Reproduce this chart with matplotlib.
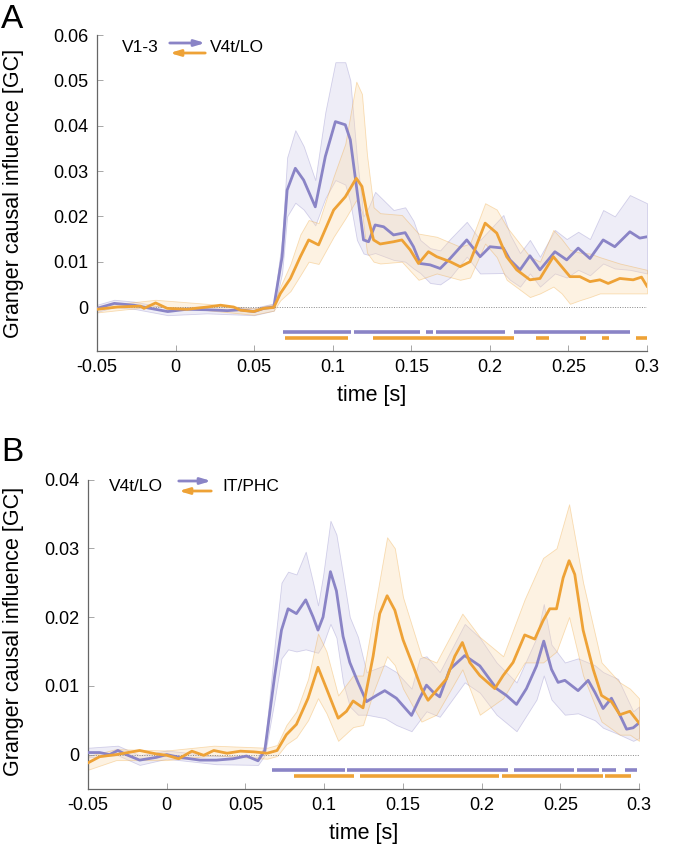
import matplotlib
matplotlib.use("Agg")
import matplotlib.pyplot as plt
import numpy as np

plt.rcParams['font.family'] = ['Liberation Sans', 'DejaVu Sans']

purple = '#8a84c6'
orange = '#eea236'
purple_fill = '#cfcce9'
orange_fill = '#fcdcae'

# ---------------- panel A: V1-3 <-> V4t/LO ----------------
tA_p = [-0.05, -0.039, -0.0265, -0.016, -0.005, 0.007, 0.020, 0.033, 0.041, 0.050, 0.056, 0.0625,
        0.0678, 0.071, 0.0762, 0.0815, 0.0889, 0.0953, 0.1017, 0.108, 0.1112, 0.1154, 0.1196, 0.1228,
        0.127, 0.1324, 0.1387, 0.1461, 0.1514, 0.1557, 0.162, 0.1684, 0.1747, 0.1853, 0.1938, 0.2001,
        0.2086, 0.2128, 0.2192, 0.2255, 0.2319, 0.2414, 0.2489, 0.2562, 0.2637, 0.2721, 0.2795, 0.2891,
        0.2954, 0.30]
mA_p = [-0.0003, 0.0008, 0.0004, -0.0003, -0.001, -0.0005, -0.0006, -0.0008, -0.0006, -0.001, -0.0003, 0.0,
        0.0111, 0.0258, 0.0306, 0.0280, 0.0221, 0.0332, 0.0409, 0.0402, 0.0369, 0.0258, 0.0148, 0.0144,
        0.0181, 0.0177, 0.0159, 0.0164, 0.0133, 0.0096, 0.0093, 0.0085, 0.0107, 0.0148, 0.0111, 0.0133,
        0.0130, 0.0104, 0.0082, 0.0113, 0.0082, 0.0122, 0.0104, 0.0130, 0.0107, 0.0148, 0.0133, 0.0166,
        0.0152, 0.0155]
bA_p_t = [-0.05, -0.039, -0.0265, -0.005, 0.02, 0.05, 0.0625, 0.0678, 0.071, 0.0762, 0.0815, 0.0889,
          0.0953, 0.1017, 0.108, 0.1112, 0.1154, 0.1196, 0.1228, 0.127, 0.1387, 0.1461, 0.1514, 0.1557,
          0.162, 0.1684, 0.1747, 0.1853, 0.1938, 0.2086, 0.2128, 0.2192, 0.2255, 0.2319, 0.2414, 0.2489,
          0.2562, 0.2637, 0.2721, 0.2795, 0.2891, 0.30]
bA_p_lo = [-0.0011, 0.0, -0.0004, -0.0018, -0.0014, -0.0018, -0.0008, 0.0075, 0.020, 0.023, 0.0215, 0.018,
           0.024, 0.028, 0.027, 0.023, 0.0148, 0.0118, 0.0115, 0.0119, 0.0104, 0.0100, 0.0085, 0.0075,
           0.0053, 0.0050, 0.0065, 0.0111, 0.0074, 0.0075, 0.006, 0.0045, 0.0074, 0.0045, 0.0074, 0.0065,
           0.0082, 0.0070, 0.0096, 0.0085, 0.0082, 0.0074]
bA_p_hi = [0.0005, 0.0016, 0.0012, -0.0002, 0.0002, -0.0002, 0.0008, 0.0150, 0.033, 0.039, 0.0355, 0.028,
           0.043, 0.054, 0.054, 0.050, 0.033, 0.0200, 0.022, 0.0254, 0.0214, 0.0220, 0.019, 0.0148,
           0.0130, 0.0125, 0.015, 0.0188, 0.0148, 0.0203, 0.016, 0.0119, 0.0148, 0.0111, 0.0170, 0.015,
           0.0166, 0.0150, 0.0214, 0.0200, 0.0247, 0.0229]

tA_o = [-0.05, -0.037, -0.0223, -0.0201, -0.0127, -0.0053, 0.0074, 0.0201, 0.0286, 0.037, 0.0413, 0.0497,
        0.0561, 0.0625, 0.0667, 0.0731, 0.0794, 0.0847, 0.091, 0.1006, 0.108, 0.115, 0.1186, 0.1218,
        0.126, 0.1302, 0.1387, 0.144, 0.1493, 0.1546, 0.1609, 0.1662, 0.1747, 0.1811, 0.1874, 0.197,
        0.2044, 0.2107, 0.2171, 0.2255, 0.2319, 0.2404, 0.2457, 0.251, 0.2573, 0.2637, 0.27, 0.2753,
        0.2827, 0.2912, 0.2965, 0.30]
mA_o = [-0.0005, 0.0, 0.0002, -0.0003, 0.0009, -0.0003, -0.0005, 0.0, 0.0004, 0.0, -0.0007, -0.001,
        -0.0003, -0.0001, 0.003, 0.0063, 0.0111, 0.0148, 0.0137, 0.0214, 0.0243, 0.0284, 0.0266, 0.0207,
        0.0148, 0.0139, 0.0144, 0.0148, 0.0126, 0.0096, 0.0122, 0.0111, 0.0100, 0.0089, 0.0100, 0.0185,
        0.0163, 0.0111, 0.0082, 0.0060, 0.0063, 0.0111, 0.0089, 0.0067, 0.0067, 0.0056, 0.0060, 0.0052,
        0.0063, 0.0060, 0.0066, 0.0046]
bA_o_t = [-0.05, -0.0127, 0.0201, 0.0497, 0.0625, 0.0667, 0.0731, 0.0794, 0.0847, 0.091, 0.1006, 0.108,
          0.115, 0.1186, 0.1218, 0.126, 0.1302, 0.144, 0.1546, 0.1662, 0.1811, 0.1874, 0.197, 0.2044,
          0.2107, 0.2255, 0.2319, 0.2404, 0.2457, 0.251, 0.2573, 0.2637, 0.27, 0.2827, 0.30]
bA_o_lo = [-0.0012, 0.0002, -0.0007, -0.0017, -0.0008, 0.0015, 0.0035, 0.0070, 0.0100, 0.0095, 0.0155, 0.0195,
           0.0236, 0.021, 0.012, 0.0100, 0.0096, 0.0100, 0.0060, 0.0074, 0.0060, 0.0065, 0.0140, 0.0110,
           0.0060, 0.0022, 0.0030, 0.0045, 0.0030, 0.0007, 0.0015, 0.0022, 0.0030, 0.0030, 0.0030]
bA_o_hi = [0.0002, 0.0016, 0.0007, -0.0003, 0.0006, 0.0045, 0.0095, 0.0160, 0.0192, 0.0185, 0.0288, 0.036,
           0.0497, 0.047, 0.0336, 0.022, 0.0207, 0.0203, 0.0162, 0.0155, 0.0133, 0.0140, 0.0229, 0.0215,
           0.0177, 0.0111, 0.0100, 0.0170, 0.0150, 0.0126, 0.0120, 0.0118, 0.0110, 0.0096, 0.0082]

sigA_p = [(0.0683, 0.1114), (0.1135, 0.1554), (0.1595, 0.1635), (0.1655, 0.2095), (0.2152, 0.2893)]
sigA_o = [(0.0695, 0.1097), (0.1254, 0.2156), (0.2292, 0.2374), (0.2571, 0.2614), (0.2711, 0.2755),
          (0.2931, 0.3013)]

# ---------------- panel B: V4t/LO <-> IT/PHC ----------------
tB_p = [-0.05, -0.0426, -0.0363, -0.031, -0.0257, -0.0172, -0.0066, 0.0, 0.0083, 0.0211, 0.0316, 0.0422,
        0.0507, 0.058, 0.0623, 0.0686, 0.0729, 0.0771, 0.0824, 0.0883, 0.093, 0.0961, 0.0993, 0.104,
        0.1078, 0.112, 0.1163, 0.1215, 0.1269, 0.1332, 0.1385, 0.1459, 0.1555, 0.1607, 0.165, 0.1692,
        0.1734, 0.1798, 0.1893, 0.1989, 0.2095, 0.2158, 0.2222, 0.2285, 0.2349, 0.2395, 0.2444, 0.2486,
        0.2529, 0.2613, 0.2677, 0.2719, 0.2772, 0.2825, 0.2867, 0.2921, 0.2963, 0.30]
mB_p = [0.0003, 0.0003, 0.0, 0.0006, 0.0, -0.0008, -0.0004, 0.0, -0.0004, -0.0008, -0.0008, -0.0006,
        -0.0002, -0.0009, 0.0006, 0.0115, 0.0181, 0.0212, 0.0205, 0.0225, 0.0200, 0.0181, 0.0200, 0.0266,
        0.0238, 0.0172, 0.0134, 0.0105, 0.0077, 0.0086, 0.0093, 0.0082, 0.0057, 0.0082, 0.0101, 0.0091,
        0.0084, 0.0124, 0.0144, 0.0129, 0.0096, 0.0086, 0.0073, 0.0096, 0.0129, 0.0165, 0.0124, 0.0105,
        0.0108, 0.0093, 0.0108, 0.0091, 0.0067, 0.0082, 0.0063, 0.0037, 0.0039, 0.0046]
bB_p_t = [-0.05, -0.031, -0.0172, 0.0, 0.0316, 0.058, 0.0623, 0.0686, 0.0729, 0.0771, 0.0824, 0.0883,
          0.093, 0.0961, 0.0993, 0.104, 0.1078, 0.112, 0.1163, 0.1215, 0.1269, 0.1385, 0.1459, 0.1555,
          0.1607, 0.165, 0.1734, 0.1893, 0.1989, 0.2095, 0.2222, 0.2349, 0.2395, 0.2444, 0.2529, 0.2613,
          0.2719, 0.2772, 0.2867, 0.2963, 0.30]
bB_p_lo = [-0.0004, -0.0001, -0.0015, -0.0006, -0.0014, -0.0015, -0.0001, 0.0080, 0.0140, 0.0153, 0.0150, 0.0153,
           0.0150, 0.0148, 0.0160, 0.0190, 0.0170, 0.0105, 0.0070, 0.0058, 0.0058, 0.0053, 0.0043, 0.0034,
           0.0050, 0.0063, 0.0055, 0.0105, 0.0090, 0.0058, 0.0034, 0.0080, 0.0115, 0.0080, 0.0058, 0.0060,
           0.0050, 0.0039, 0.0030, 0.0020, 0.0024]
bB_p_hi = [0.0010, 0.0013, -0.0001, 0.0006, -0.0002, -0.0003, 0.0013, 0.0160, 0.0250, 0.0266, 0.0262, 0.0295,
           0.0250, 0.0217, 0.0260, 0.0340, 0.0320, 0.0262, 0.0200, 0.0171, 0.0120, 0.0130, 0.0120, 0.0096,
           0.0140, 0.0143, 0.0120, 0.0190, 0.0170, 0.0134, 0.0105, 0.0170, 0.0219, 0.0160, 0.0134, 0.0140,
           0.0130, 0.0120, 0.0110, 0.0063, 0.0070]

tB_o = [-0.05, -0.0426, -0.0321, -0.0172, -0.0066, 0.0, 0.0076, 0.016, 0.0235, 0.0299, 0.0383, 0.0468,
        0.0553, 0.0638, 0.0701, 0.0760, 0.0824, 0.0898, 0.0961, 0.1015, 0.1089, 0.1142, 0.1184, 0.1247,
        0.1311, 0.1353, 0.14, 0.1449, 0.1501, 0.1565, 0.1618, 0.166, 0.1713, 0.1777, 0.183, 0.1878,
        0.1925, 0.1989, 0.2084, 0.2137, 0.22, 0.2274, 0.2338, 0.2391, 0.2433, 0.2476, 0.2518, 0.2556,
        0.2592, 0.2645, 0.2709, 0.2762, 0.2825, 0.2878, 0.2942, 0.30]
mB_o = [-0.0012, -0.0003, 0.0, 0.0006, 0.0001, -0.0001, -0.0006, 0.0005, -0.0001, 0.0006, 0.0002, 0.0005,
        0.0004, 0.0002, 0.0006, 0.0029, 0.0044, 0.0082, 0.0127, 0.0096, 0.0053, 0.0063, 0.0078, 0.0068,
        0.0143, 0.0205, 0.0231, 0.0210, 0.0167, 0.0129, 0.0096, 0.0079, 0.0093, 0.0110, 0.0143, 0.0163,
        0.0134, 0.0115, 0.0096, 0.0115, 0.0134, 0.0174, 0.0168, 0.0195, 0.0212, 0.0212, 0.0257, 0.0282,
        0.0262, 0.0181, 0.0124, 0.0086, 0.0077, 0.0058, 0.0063, 0.0046]
bB_o_t = [-0.05, -0.0321, 0.0, 0.0299, 0.0638, 0.0701, 0.076, 0.0824, 0.0898, 0.0961, 0.1015, 0.1089,
          0.1184, 0.1247, 0.1311, 0.14, 0.1449, 0.1501, 0.1618, 0.1713, 0.1878, 0.1989, 0.2137, 0.2274,
          0.2391, 0.2476, 0.2556, 0.2645, 0.2762, 0.2878, 0.2942, 0.30]
bB_o_lo = [-0.0022, -0.0008, -0.0008, -0.0001, -0.0006, -0.0002, 0.0015, 0.0025, 0.0050, 0.0082, 0.0060, 0.0020,
           0.0040, 0.0043, 0.0090, 0.0143, 0.0130, 0.0096, 0.0048, 0.0058, 0.0124, 0.0058, 0.0082, 0.0134,
           0.0134, 0.0150, 0.0200, 0.0115, 0.0048, 0.0029, 0.0029, 0.0020]
bB_o_hi = [-0.0002, 0.0008, 0.0006, 0.0013, 0.0010, 0.0014, 0.0043, 0.0063, 0.0110, 0.0176, 0.0150, 0.0086,
           0.0115, 0.0115, 0.0200, 0.0316, 0.0300, 0.0229, 0.0143, 0.0134, 0.0205, 0.0171, 0.0143, 0.0226,
           0.0286, 0.0300, 0.0364, 0.0250, 0.0134, 0.0105, 0.0096, 0.0082]

sigB_p = [(0.067, 0.1131), (0.1148, 0.2169), (0.2207, 0.2588), (0.2609, 0.2749), (0.2766, 0.2851),
          (0.2908, 0.2990)]
sigB_o = [(0.0809, 0.1190), (0.1229, 0.2112), (0.2131, 0.2771), (0.2787, 0.2950)]

x_ticks = [-0.05, 0, 0.05, 0.1, 0.15, 0.2, 0.25, 0.3]
x_ticklabels = ['-0.05', '0', '0.05', '0.1', '0.15', '0.2', '0.25', '0.3']
yA_ticks = [0, 0.01, 0.02, 0.03, 0.04, 0.05, 0.06]
yA_ticklabels = ['0', '0.01', '0.02', '0.03', '0.04', '0.05', '0.06']
yB_ticks = [0, 0.01, 0.02, 0.03, 0.04]
yB_ticklabels = ['0', '0.01', '0.02', '0.03', '0.04']

W, H = 677, 846
fig = plt.figure(figsize=(W / 100, H / 100), dpi=100)


def px(x, y):
    return x / W, 1 - y / H


def draw_panel(rect, tp, mp, btp, lop, hip, to, mo, bto, loo, hio, sig_p, sig_o, y_sig,
               yticks, yticklabels, ylim):
    ax = fig.add_axes(rect)
    ax.fill_between(btp, lop, hip, color=purple_fill, alpha=0.35, lw=0.6,
                    edgecolor=(0.55, 0.52, 0.78, 0.22))
    ax.fill_between(bto, loo, hio, color=orange_fill, alpha=0.35, lw=0.6,
                    edgecolor=(0.93, 0.64, 0.21, 0.2))
    ax.axhline(0, color='#888888', lw=0.7, ls=(0, (1, 1.5)), zorder=1)
    ax.plot(tp, mp, color=purple, lw=2.0, zorder=3, solid_joinstyle='round')
    ax.plot(to, mo, color=orange, lw=2.0, zorder=4, solid_joinstyle='round')
    for a, b in sig_p:
        ax.plot([a, b], [y_sig[0], y_sig[0]], color=purple, lw=2.6, solid_capstyle='butt')
    for a, b in sig_o:
        ax.plot([a, b], [y_sig[1], y_sig[1]], color=orange, lw=2.6, solid_capstyle='butt')
    ax.set_xlim(-0.05, 0.3)
    ax.set_ylim(*ylim)
    ax.set_xticks(x_ticks)
    ax.set_xticklabels(x_ticklabels)
    ax.set_yticks(yticks)
    ax.set_yticklabels(yticklabels)
    for s in ['top', 'right']:
        ax.spines[s].set_visible(False)
    for s in ['left', 'bottom']:
        ax.spines[s].set_color('#666666')
        ax.spines[s].set_linewidth(0.9)
    ax.spines['left'].set_bounds(ylim[0], yticks[-1])
    ax.tick_params(direction='in', length=4, width=0.6, color='#999999', labelsize=13, pad=6)
    ax.set_xlabel('time [s]', fontsize=15.5, labelpad=6)
    ax.set_ylabel('Granger causal influence [GC]', fontsize=15.5)
    return ax


axA = draw_panel([97 / W, 1 - 351 / H, 550 / W, 316 / H],
                 tA_p, mA_p, bA_p_t, bA_p_lo, bA_p_hi, tA_o, mA_o, bA_o_t, bA_o_lo, bA_o_hi,
                 sigA_p, sigA_o, (-0.0055, -0.0068), yA_ticks, yA_ticklabels, (-0.0097, 0.06))
axA.yaxis.set_label_coords(*axA.transAxes.inverted().transform(fig.transFigure.transform(px(24, 193))))

axB = draw_panel([88 / W, 1 - 789 / H, 551 / W, 315 / H],
                 tB_p, mB_p, bB_p_t, bB_p_lo, bB_p_hi, tB_o, mB_o, bB_o_t, bB_o_lo, bB_o_hi,
                 sigB_p, sigB_o, (-0.0023, -0.0031), yB_ticks, yB_ticklabels, (-0.005, 0.0408))
axB.yaxis.set_label_coords(*axB.transAxes.inverted().transform(fig.transFigure.transform(px(24, 631))))

# panel letters
fig.text(*px(1, 19), 'A', fontsize=24, va='center', ha='left')
fig.text(*px(1, 452), 'B', fontsize=24, va='center', ha='left')


def legend(x_left, x_a0, x_a1, x_right, y, dy, left_txt, right_txt):
    fig.text(*px(x_left, y), left_txt, fontsize=12.5, va='center', ha='left')
    fig.text(*px(x_right, y), right_txt, fontsize=12.5, va='center', ha='left')
    fig.patches.append(matplotlib.patches.FancyArrowPatch(
        px(x_a0, y - dy), px(x_a1, y - dy), transform=fig.transFigure,
        arrowstyle='-|>,head_length=6,head_width=1.8', color=purple, lw=2.0, mutation_scale=1))
    fig.patches.append(matplotlib.patches.FancyArrowPatch(
        px(x_a1, y + dy), px(x_a0, y + dy), transform=fig.transFigure,
        arrowstyle='-|>,head_length=6,head_width=1.8', color=orange, lw=2.0, mutation_scale=1))


legend(122, 167, 208, 210, 48, 5, 'V1-3', 'V4t/LO')
legend(109, 176, 214, 222, 486, 5, 'V4t/LO', 'IT/PHC')

fig.savefig('out.png', dpi=100)
